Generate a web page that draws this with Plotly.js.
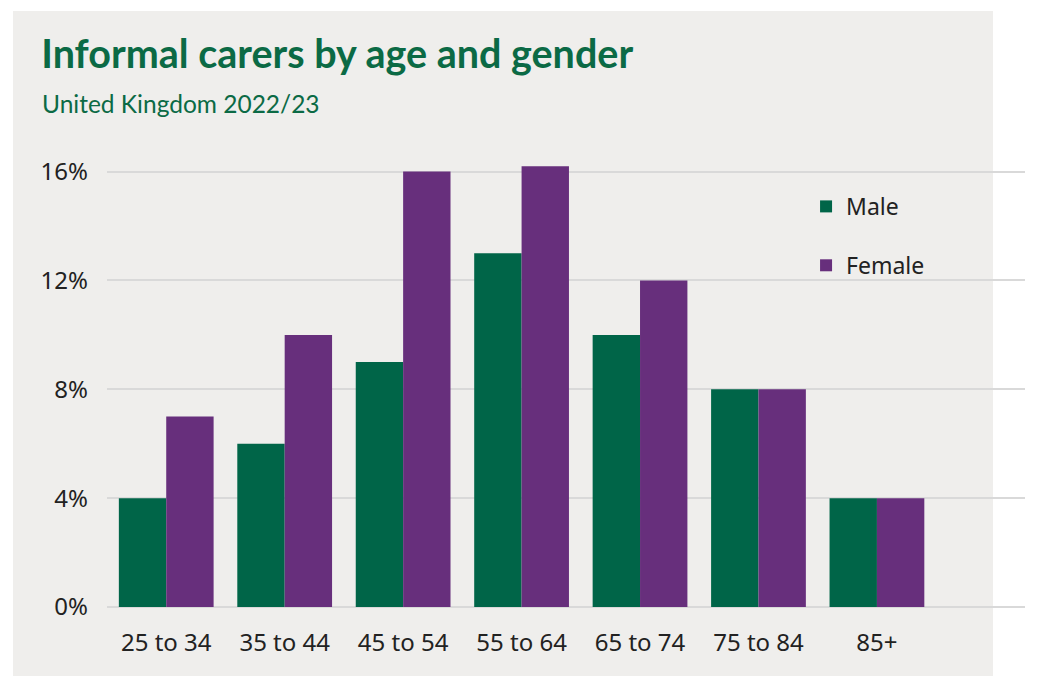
<!DOCTYPE html>
<html>
<head>
<meta charset="utf-8">
<script src="https://cdn.plot.ly/plotly-3.0.1.min.js"></script>
<style>
  html, body { margin: 0; padding: 0; background: #ffffff; }
  #bg { position: absolute; left: 13px; top: 11px; width: 980px; height: 665px; background: #EFEEEC; }
  #chart { position: absolute; left: 0; top: 0; width: 1058px; height: 676px; }
</style>
</head>
<body>
<div id="bg"></div>
<div id="chart"></div>
<script>
const categories = ["25 to 34", "35 to 44", "45 to 54", "55 to 64", "65 to 74", "75 to 84", "85+"];
const maleValues = [4, 6, 9, 13, 10, 8, 4];
const femaleValues = [7, 10, 16, 16.2, 12, 8, 4];
const yTickValues = [0, 4, 8, 12, 16];
const yTickLabels = ["0%", "4%", "8%", "12%", "16%"];

const GREEN = "#006548";
const PURPLE = "#672F7C";
const tickFont = { family: "'Noto Sans', 'Open Sans', sans-serif", size: 24, color: "#222222" };

const traces = [
  { type: "bar", name: "Male", x: categories, y: maleValues, marker: { color: GREEN }, legendgroup: "m", hoverinfo: "x+y" },
  { type: "bar", name: "Female", x: categories, y: femaleValues, marker: { color: PURPLE }, legendgroup: "f", hoverinfo: "x+y" }
];

const layout = {
  width: 1058, height: 676,
  paper_bgcolor: "rgba(0,0,0,0)",
  plot_bgcolor: "rgba(0,0,0,0)",
  margin: { l: 107, r: 33, t: 158, b: 69 },
  barmode: "group",
  bargap: 0.2,
  bargroupgap: 0,
  title: {
    text: "<b>Informal carers by age and gender</b>",
    font: { family: "Lato, 'Noto Sans', sans-serif", size: 39.5, color: "#0B6A45" },
    x: 0.039, xanchor: "left", xref: "container",
    y: 0.94, yanchor: "top", yref: "container"
  },
  annotations: [{
    text: "United Kingdom 2022/23",
    xref: "paper", yref: "paper",
    x: -0.073, xanchor: "left",
    y: 1.121, yanchor: "middle",
    showarrow: false,
    font: { family: "Lato, 'Noto Sans', sans-serif", size: 24.5, color: "#0B6A45" }
  }],
  xaxis: {
    type: "category",
    range: [-0.5, 7.25],
    tickfont: tickFont,
    showgrid: false, zeroline: false, showline: false,
    ticks: "", ticklabelstandoff: 19, fixedrange: true
  },
  yaxis: {
    range: [0, 16.5],
    tickvals: yTickValues,
    ticktext: yTickLabels,
    tickfont: tickFont,
    showgrid: true, gridcolor: "#D9D9D9", gridwidth: 1.5,
    zeroline: true, zerolinecolor: "#D9D9D9", zerolinewidth: 1.5,
    showline: false, ticks: "", ticklabelstandoff: 18, fixedrange: true
  },
  showlegend: true,
  legend: {
    x: 0.7615, xanchor: "left",
    y: 0.94, yanchor: "top",
    bgcolor: "rgba(0,0,0,0)",
    font: { family: "'Noto Sans', 'Open Sans', sans-serif", size: 23, color: "#222222" },
    tracegroupgap: 26,
    traceorder: "grouped",
    itemwidth: 30
  }
};

Plotly.newPlot("chart", traces, layout, { displayModeBar: false });
</script>
</body>
</html>
